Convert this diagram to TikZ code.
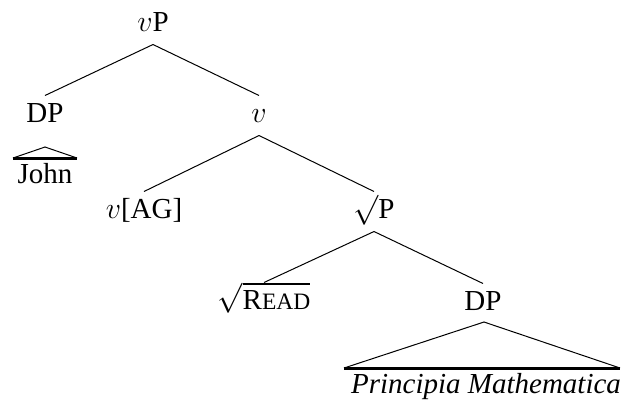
\documentclass[tikz,border=0pt]{standalone}
\usepackage{fontspec}
\setmainfont{Liberation Serif}
\usetikzlibrary{positioning}
\newcommand{\readsc}{R{\fontsize{9.4}{11}\selectfont EAD}}

\begin{document}
\begin{tikzpicture}[x=0.4pt,y=-0.4pt,font=\fontsize{11.6}{13}\selectfont,
    cat/.style={inner sep=1pt,text height=9.4pt,text depth=4.2pt,anchor=base},
    roof/.style={line width=1.2pt}]

                \useasboundingbox (0,0) rectangle (624,401);

                \node[cat] (vP) at (153,31) {$v$P};

                \node[cat] (DPa) at (45,122) {DP};
                \node[cat] (vbar) at (259,122) {$v$};

                \node[cat] (vAG) at (144,218) {$v$[AG]};
                \node[cat] (rootP) at (374,218) {$\surd$P};

                \node[cat] (rootRead) at (264,309) {$\sqrt{\mbox{\readsc}}$};
                \node[cat] (DPb) at (483,310) {DP};

                \node[anchor=base,inner sep=0pt] (john) at (45,183) {John};
                \node[anchor=base,inner sep=0pt] (pm) at (486,393) {\textit{Principia Mathematica}};

                % branches
                \path (vP.south) edge (DPa.north)
                                 edge (vbar.north)
                      (vbar.south) edge (vAG.north)
                                   edge (rootP.north)
                      (rootP.south) edge (rootRead.north)
                                    edge (DPb.north);

                % roofs
                \draw (13,158) -- (45,147) -- (77,158);
                \draw[roof] (13,158) -- (77,158);
                \draw (344,368) -- (484,322) -- (620,368);
                \draw[roof] (344,368) -- (620,368);

            \end{tikzpicture}
\end{document}
